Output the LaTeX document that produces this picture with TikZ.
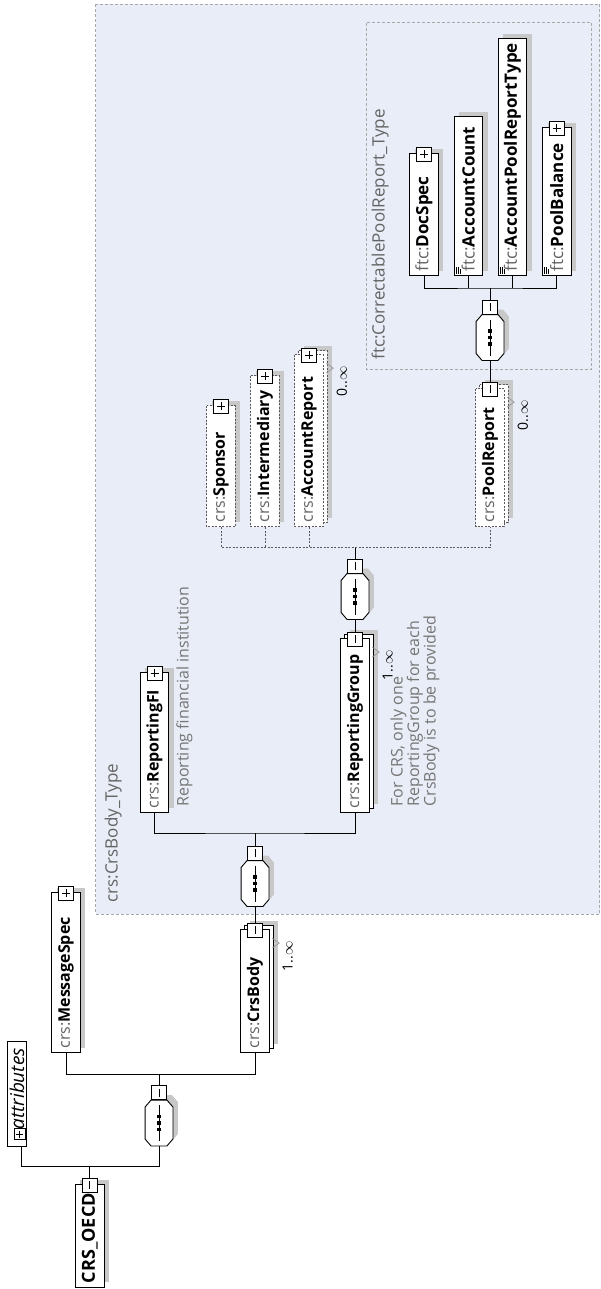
\documentclass[tikz,border=0pt]{standalone}
\usepackage{fontspec}
\setmainfont{Open Sans}
\usetikzlibrary{calc}

\definecolor{typefill}{RGB}{233,237,247}
\definecolor{typeline}{RGB}{168,168,168}
\definecolor{shadowgray}{RGB}{200,200,200}
\definecolor{prefixgray}{RGB}{100,100,100}
\definecolor{notegray}{RGB}{118,118,118}

\newcommand{\crs}[1]{\mbox{{\color{prefixgray}\mdseries crs:}\textbf{#1}}}
\newcommand{\ftc}[1]{\mbox{{\color{prefixgray}\mdseries ftc:}\textbf{#1}}}

\begin{document}
\begin{tikzpicture}[x=1pt,y=-1pt,line width=0.9pt,
    elem/.style={draw=black, fill=white, rotate=90, anchor=west,
      minimum height=28.5pt, inner xsep=4pt, inner ysep=0pt, align=left,
      font=\fontsize{16}{18}\selectfont,
      preaction={fill=shadowgray, draw=none, transform canvas={shift={(5pt,5pt)}}}},
    ftcelem/.style={elem, font=\fontsize{17}{19}\selectfont},
    optional/.style={draw=black!65, dash pattern=on 2pt off 1.5pt},
    many/.style={preaction={fill=shadowgray, draw=none, transform canvas={shift={(9pt,9pt)}}},
      preaction={draw=#1, fill=white, transform canvas={shift={(4pt,4pt)}}}},
    many/.default=black,
    pm/.style={draw=black, fill=white, minimum width=15pt, minimum height=14pt, inner sep=0pt},
    minus/.style={pm, path picture={
        \draw ([yshift=4pt]path picture bounding box.center) -- ([yshift=-4pt]path picture bounding box.center);}},
    plus/.style={pm, path picture={
        \draw ([yshift=4pt]path picture bounding box.center) -- ([yshift=-4pt]path picture bounding box.center);
        \draw ([xshift=-4pt]path picture bounding box.center) -- ([xshift=4pt]path picture bounding box.center);}},
    seq/.style={minimum width=27pt, minimum height=45pt, inner sep=0pt},
    typebox/.style={fill=typefill, draw=typeline, line width=0.8pt, dash pattern=on 3pt off 2pt},
    typelabel/.style={rotate=90, inner sep=0pt, text=prefixgray, font=\fontsize{17}{19}\selectfont},
    note/.style={rotate=90, inner sep=0pt, text=notegray, align=left, font=\fontsize{16}{16.5}\selectfont},
    card/.style={rotate=90, inner sep=0pt, font=\fontsize{14}{16}\selectfont},
    optline/.style={draw=black!65, dash pattern=on 2pt off 1.5pt},
    tri/.style={draw=black!40, line width=0.7pt},
    icon/.style={line width=0.6pt}]

  \fill[white] (0,0) rectangle (600,1289);
  \useasboundingbox (0,0) rectangle (600,1289);

  % complex types
  \draw[typebox] (95.7,4.3) rectangle (599.5,914);
  \draw[typebox] (366,22.7) rectangle (591.5,369);
  \node[typelabel, anchor=base west] (bodytype) at (117.5,903) {crs:CrsBody\_Type};
  \node[typelabel, anchor=base west] (pooltype) at (384.5,360) {ftc:CorrectablePoolReport\_Type};

  % sequences
  \node[seq] (seqa) at (159,1123) {};
  \node[seq] (seqb) at (255,883.5) {};
  \node[seq] (seqc) at (355,596.5) {};
  \node[seq] (seqd) at (490,337.5) {};
  \foreach \s in {seqa,seqb,seqc,seqd}{
    \draw[fill=white, preaction={fill=shadowgray, draw=none, transform canvas={shift={(5pt,5pt)}}}]
      ($(\s.north west)+(0,7)$) -- ($(\s.north west)+(6,0)$) -- ($(\s.north east)+(-6,0)$)
      -- ($(\s.north east)+(0,7)$) -- ($(\s.south east)+(0,-7)$) -- ($(\s.south east)+(-6,0)$)
      -- ($(\s.south west)+(6,0)$) -- ($(\s.south west)+(0,-7)$) -- cycle;
    \draw ([yshift=18pt]\s.center) -- ([yshift=-18pt]\s.center);
    \foreach \k in {-6.5,0,6.5}
      \fill ([yshift=\k pt]\s.center) +(-2.3pt,-1.8pt) rectangle +(2.3pt,1.8pt);
  }
  \node[minus, anchor=south] (seqapm) at (seqa.north) {};
  \node[minus, anchor=south] (seqbpm) at (seqb.north) {};
  \node[minus, anchor=south] (seqcpm) at (seqc.north) {};
  \node[minus, anchor=south] (seqdpm) at (seqd.north) {};

  % root and its attributes
  \node[elem, text width=94.5pt, font=\fontsize{18}{20}\selectfont\bfseries] (root) at (89.7,1287.5) {CRS\_OECD};
  \node[minus] (rootpm) at ([yshift=-1pt]root.east) {};
  \node[draw=black, fill=white, rotate=90, anchor=west, minimum height=19.5pt, inner xsep=4pt,
    inner ysep=0pt, align=left, text width=97pt, font=\fontsize{19}{20}\selectfont\itshape] (attr) at (17,1147) {\hspace*{13pt}attributes};
  \node[pm, minimum width=11.5pt, minimum height=11.5pt, path picture={
      \draw ([yshift=3.5pt]path picture bounding box.center) -- ([yshift=-3.5pt]path picture bounding box.center);
      \draw ([xshift=-3.5pt]path picture bounding box.center) -- ([xshift=3.5pt]path picture bounding box.center);}] (attrpm) at (19.8,1134) {};

  % elements
  \node[elem, text width=152pt] (msgspec) at (66,1053) {\crs{MessageSpec}};
  \node[plus] (msgspecpm) at ([yshift=-1pt]msgspec.east) {};
  \node[elem, many, text width=115pt] (crsbody) at (255,1053) {\crs{CrsBody}};
  \node[minus] (crsbodypm) at ([yshift=-1pt]crsbody.east) {};
  \node[elem, text width=132pt] (repfi) at (154.5,813) {\crs{ReportingFI}};
  \node[plus] (repfipm) at ([yshift=-1pt]repfi.east) {};
  \node[elem, many, text width=166pt] (repgrp) at (355,813) {\crs{ReportingGroup}};
  \node[minus] (repgrppm) at ([yshift=-1pt]repgrp.east) {};
  \node[elem, optional, text width=113pt] (sponsor) at (221,527) {\crs{Sponsor}};
  \node[plus] (sponsorpm) at ([yshift=-1pt]sponsor.east) {};
  \node[elem, optional, text width=143pt] (interm) at (265,527) {\crs{Intermediary}};
  \node[plus] (intermpm) at ([yshift=-1pt]interm.east) {};
  \node[elem, optional, many=black!65, text width=164pt] (accrep) at (309,527) {\crs{AccountReport}};
  \node[plus] (accreppm) at ([yshift=-1pt]accrep.east) {};
  \node[elem, optional, many=black!65, text width=130pt] (poolrep) at (490,527) {\crs{PoolReport}};
  \node[minus] (poolreppm) at ([yshift=-1pt]poolrep.east) {};
  \node[ftcelem, text width=114pt] (docspec) at (424,276) {\ftc{DocSpec}};
  \node[plus] (docspecpm) at ([yshift=-1pt]docspec.east) {};
  \node[ftcelem, text width=151pt] (acccnt) at (468.3,276) {\ftc{AccountCount}};
  \node[ftcelem, text width=229pt] (aprt) at (512.3,276) {\ftc{AccountPoolReportType}};
  \node[ftcelem, text width=140pt] (poolbal) at (556.8,276) {\ftc{PoolBalance}};
  \node[plus] (poolbalpm) at ([yshift=-1pt]poolbal.east) {};

  % simple content marks
  \foreach \e in {acccnt,aprt,poolbal}
    \draw[icon] ($(\e.north west)+(2.5,-2.5)$) -- ++(0,-7)
                ($(\e.north west)+(4.5,-2.5)$) -- ++(0,-7)
                ($(\e.north west)+(6.5,-2.5)$) -- ++(0,-4.5);

  % occurrences
  \foreach \e/\m in {crsbody/1,repgrp/1,accrep/0,poolrep/0}{
    \draw[tri] ($(\e.south east)+(2.5,9)$) -- ++(7,5) -- ++(-7,5);
    \node[card, anchor=north east] (\e-card) at ($(\e.south east)+(12.5,12)$) {\m..$\infty$};
  }

  % annotations
  \node[note, anchor=base west] (repfinote) at (188.5,807) {Reporting financial institution};
  \node[note, anchor=north west] (repgrpnote) at (390,807) {For CRS, only one\\ReportingGroup for each\\CrsBody is to be provided};

  % connectors
  \coordinate (j1) at (89.7,1166);
  \draw (rootpm.north) -- (j1);
  \draw ([xshift=4pt]attr.west) |- (j1) -| (seqa.south);
  \coordinate (j2) at (159,1074);
  \draw (seqapm.north) -- (j2);
  \draw (msgspec.west) |- (j2) -| (crsbody.west);
  \draw (crsbodypm.north) -- (seqb.south);
  \coordinate (j3) at (255,833);
  \draw (seqbpm.north) -- (j3);
  \draw (repfi.west) |- (j3) -| (repgrp.west);
  \draw (repgrppm.north) -- (seqc.south);
  \coordinate (j4) at (355,547);
  \draw (seqcpm.north) -- (j4);
  \draw[optline] (sponsor.west) |- (j4) -| (poolrep.west);
  \draw[optline] (interm.west) -- (interm.west |- j4);
  \draw[optline] (accrep.west) -- (accrep.west |- j4);
  \draw (poolreppm.north) -- (seqd.south);
  \coordinate (j5) at (490,288);
  \draw (seqdpm.north) -- (j5);
  \draw (docspec.west) |- (j5) -| (poolbal.west);
  \draw (acccnt.west) -- (acccnt.west |- j5);
  \draw (aprt.west) -- (aprt.west |- j5);
\end{tikzpicture}
\end{document}
